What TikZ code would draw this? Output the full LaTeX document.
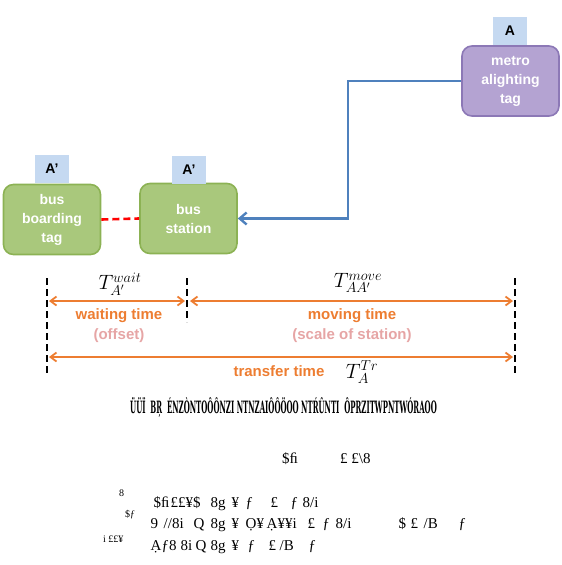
\documentclass[tikz,border=0pt]{standalone}
\usepackage{fontspec}
\usepackage{graphicx}
\usetikzlibrary{arrows.meta}
\newfontfamily\labfont{Liberation Sans}
\newfontfamily\garbfont{Liberation Serif}
\newfontfamily\garbbold{DejaVu Serif}
\newcommand{\garbw}[2]{\makebox[0pt][l]{\hspace{#1pt}#2}}
\definecolor{gfill}{RGB}{169,200,124}
\definecolor{gdraw}{RGB}{140,178,84}
\definecolor{pfill}{RGB}{180,163,210}
\definecolor{pdraw}{RGB}{140,120,182}
\definecolor{tagfill}{RGB}{197,217,241}
\definecolor{orng}{RGB}{237,125,49}
\definecolor{pinkt}{RGB}{230,165,165}
\definecolor{blueln}{RGB}{79,129,189}
\tikzset{
  gbox/.style={draw=gdraw, fill=gfill, line width=1.6pt, rounded corners=10pt,
    minimum width=97pt, minimum height=70pt, align=center, text=white,
    font=\labfont\bfseries\fontsize{14}{19}\selectfont, inner sep=0pt},
  pbox/.style={gbox, draw=pdraw, fill=pfill},
  tagbox/.style={fill=tagfill, minimum width=34pt, minimum height=28pt, inner sep=0pt,
    font=\labfont\bfseries\fontsize{14}{16}\selectfont},
  vdash/.style={line width=2.6pt, dash pattern=on 7pt off 4pt},
  tarrow/.style={orng, line width=1.8pt, {Straight Barb[length=6pt,width=9pt]}-{Straight Barb[length=6pt,width=9pt]}},
  olab/.style={text=orng, font=\labfont\bfseries\fontsize{15}{17}\selectfont, inner sep=0pt},
  plab/.style={text=pinkt, font=\labfont\bfseries\fontsize{15}{17}\selectfont, inner sep=0pt},
  mlab/.style={font=\fontsize{20}{22}\selectfont, inner sep=0pt},
  garb/.style={font=\garbfont\fontsize{15}{17}\selectfont, inner sep=0pt, anchor=base west},
  garbs/.style={font=\garbfont\fontsize{10}{12}\selectfont, inner sep=0pt, anchor=base west},
}
\begin{document}
\begin{tikzpicture}[x=1pt,y=-1pt]
\useasboundingbox (0,0) rectangle (562,565);
% boxes
\node[gbox] (board) at (52,219.5) {bus\\boarding\\tag};
\node[gbox] (station) at (188.5,218.5) {bus\\station};
\node[pbox] (metro) at (510.5,81) {metro\\alighting\\tag};
\node[tagbox] (tagb) at (52,169) {A’};
\node[tagbox] (tags) at (189,169.5) {A’};
\node[tagbox] (tagm) at (510,31) {A};
% connectors
\draw[red, line width=2.6pt, dash pattern=on 7pt off 4pt] (board.east) -- (station.west);
\coordinate (bend) at (348,218.5);
\draw[blueln, line width=2.4pt, -{Straight Barb[length=7pt,width=12pt]}] (metro.west) -| (bend) -- (station.east);
% timeline verticals
\coordinate (l1) at (47,278); \coordinate (l2) at (47,375);
\coordinate (m1) at (187,278); \coordinate (m2) at (187,322);
\coordinate (r1) at (515,278); \coordinate (r2) at (515,375);
\draw[vdash] (l1) -- (l2);
\draw[vdash] (m1) -- (m2);
\draw[vdash] (r1) -- (r2);
% arrows
\coordinate (a1) at (49,301); \coordinate (a2) at (185,301);
\coordinate (b1) at (190,301); \coordinate (b2) at (513,301);
\coordinate (c1) at (49,357); \coordinate (c2) at (513,357);
\draw[tarrow] (a1) -- (a2);
\draw[tarrow] (b1) -- (b2);
\draw[tarrow] (c1) -- (c2);
% labels
\node[mlab] (tw) at (120,284) {$T^{wait}_{A'}$};
\node[mlab] (tm) at (358,283) {$T^{move}_{AA'}$};
\node[olab] (wt) at (119,316) {waiting time};
\node[plab] (off) at (119,336) {(offset)};
\node[olab] (mt) at (352,316) {moving time};
\node[plab] (sc) at (352,336) {(scale of station)};
\node[olab] (tt) at (279,371) {transfer time};
\node[mlab] (ttr) at (362,372) {$T^{Tr}_{A}$};
% garbled text
\node[inner sep=0pt, anchor=base west] (g1) at (130,413) {\scalebox{0.41}[1]{\garbbold\bfseries\fontsize{17}{19}\selectfont ÜÜÏ \ BŖ \ ÉNZÒNTOÔÔNZI NTNZAIÔÔÖOO NTŔÛNTI \ ÔPRZITWPNTWÓRAOO}};
\node[garb] (g2a) at (282,463) {\$ﬁ};
\node[garb] (g2b) at (340,463) {£ £\textbackslash 8};
\node[garbs] (g3s) at (119,496) {8};
\node[garb] (g3) at (0,507) {\garbw{153}{\$ﬁ}\garbw{170}{££¥\$}\garbw{210}{8g}\garbw{231}{¥}\garbw{245}{ƒ}\garbw{270}{£}\garbw{290}{ƒ}\garbw{302}{8/i}\hspace{317pt}};
\node[garbs] (g4s) at (125,517) {\$ƒ};
\node[garb] (g4) at (0,528) {\garbw{150}{9}\garbw{163}{//8i}\garbw{193}{Q}\garbw{210}{8g}\garbw{231}{¥}\garbw{245}{Ọ¥}\garbw{266}{Ạ¥¥i}\garbw{307}{£}\garbw{322}{ƒ}\garbw{335}{8/i}\garbw{398}{\$}\garbw{410}{£}\garbw{423}{/B}\garbw{458}{ƒ}\hspace{465pt}};
\node[garbs] (g5s) at (103,542) {i ££¥};
\node[garb] (g5) at (0,550) {\garbw{150}{Ạƒ8}\garbw{180}{8i}\garbw{195}{Q}\garbw{210}{8g}\garbw{231}{¥}\garbw{247}{ƒ}\garbw{268}{£}\garbw{279}{/B}\garbw{308}{ƒ}\hspace{315pt}};
\end{tikzpicture}
\end{document}
